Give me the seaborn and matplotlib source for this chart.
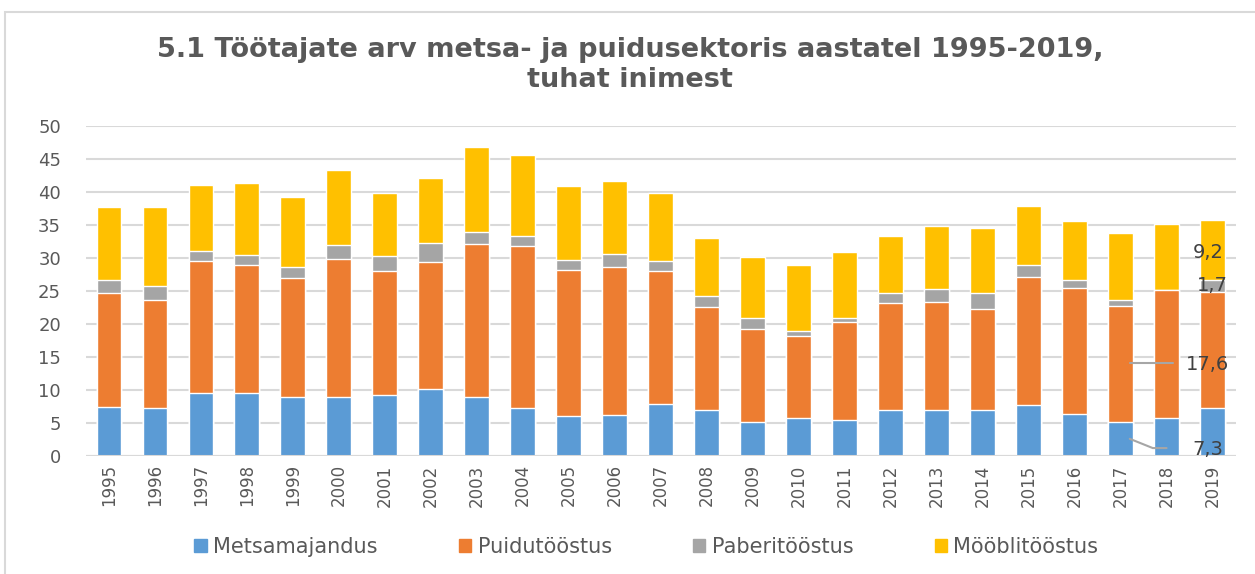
import numpy as np
import pandas as pd
import matplotlib
matplotlib.use('Agg')
import matplotlib.pyplot as plt
from matplotlib.patches import Rectangle, Patch
import seaborn as sns

# Andmed (tuhat inimest), loetud jooniselt
years = [str(y) for y in range(1995, 2020)]
metsamajandus = [7.4, 7.3, 9.5, 9.5, 8.9, 9.0, 9.3, 10.1, 8.9, 7.3, 6.1, 6.2, 7.9,
                 7.0, 5.2, 5.7, 5.5, 7.0, 7.0, 6.9, 7.7, 6.4, 5.2, 5.8, 7.3]
puidutoostus = [17.3, 16.4, 20.1, 19.4, 18.0, 20.8, 18.7, 19.3, 23.2, 24.5, 22.1, 22.4, 20.1,
                15.5, 14.0, 12.5, 14.8, 16.2, 16.3, 15.4, 19.4, 19.1, 17.6, 19.4, 17.6]
paberitoostus = [2.0, 2.0, 1.4, 1.5, 1.7, 2.2, 2.3, 2.9, 1.8, 1.5, 1.5, 2.0, 1.5,
                 1.7, 1.7, 0.8, 0.6, 1.5, 2.0, 2.4, 1.8, 1.2, 0.9, 0.0, 1.7]
mooblitoostus = [11.1, 12.0, 10.1, 11.0, 10.6, 11.3, 9.5, 9.8, 12.9, 12.3, 11.2, 11.1, 10.3,
                 8.9, 9.3, 9.9, 10.0, 8.6, 9.5, 9.9, 9.0, 8.9, 10.1, 9.9, 9.2]
series_names = ['Metsamajandus', 'Puidutööstus', 'Paberitööstus', 'Mööblitööstus']
colors = ['#5B9BD5', '#ED7D31', '#A5A5A5', '#FFC000']

df = pd.DataFrame({'aasta': years,
                   series_names[0]: metsamajandus,
                   series_names[1]: puidutoostus,
                   series_names[2]: paberitoostus,
                   series_names[3]: mooblitoostus})
cum = df[series_names].cumsum(axis=1)

sns.set_style('white')
plt.rcParams['font.family'] = ['DejaVu Sans']
txt = '#595959'

fig = plt.figure(figsize=(12.55, 5.74), dpi=100)
ax = fig.add_axes([0.0685, 0.2056, 0.916, 0.5749])

# virnastatud tulbad: kõrgeim kiht enne, madalamad peale
for name, col in reversed(list(zip(series_names, colors))):
    sns.barplot(x=df['aasta'], y=cum[name], color=col, width=0.54,
                saturation=1, ax=ax, zorder=3)

ax.set_ylim(0, 50)
ax.set_xlim(-0.5, len(years) - 0.5)
ax.set_yticks(range(0, 51, 5))
ax.yaxis.grid(True, color='#d9d9d9', linewidth=1.5, zorder=0)
ax.set_axisbelow(True)
for s in ax.spines.values():
    s.set_visible(False)
ax.axhline(0, color='#d9d9d9', linewidth=1.5, zorder=4)
ax.set_xlabel('')
ax.set_ylabel('')
ax.tick_params(axis='y', length=0, pad=18, labelsize=13, labelcolor=txt)
ax.tick_params(axis='x', length=0, pad=6, labelsize=12, labelcolor=txt, rotation=90)

# andmesildid viimasele aastale
last = len(years) - 1
lab = dict(fontsize=14, color='#404040', ha='center', va='center', zorder=6)
ax.text(last - 0.1, cum[series_names[3]].iloc[-1] - 4.9, '9,2', **lab)
ax.text(last, cum[series_names[2]].iloc[-1] - 0.8, '1,7', **lab)
ax.text(last - 0.1, 13.8, '17,6', **lab)
ax.text(last - 0.1, 1.0, '7,3', **lab)
ax.plot([last - 1.8, last - 0.87], [14.1, 14.1], color='#a6a6a6', lw=1.5, zorder=5)
ax.plot([last - 1.8, last - 1.3, last - 1.0], [2.6, 1.2, 1.2], color='#a6a6a6', lw=1.5, zorder=5)

fig.text(0.502, 0.887, '5.1 Töötajate arv metsa- ja puidusektoris aastatel 1995-2019,\ntuhat inimest',
         ha='center', va='center', fontsize=19.5, fontweight='bold', color=txt, linespacing=1.2)

handles = [Patch(facecolor=c, edgecolor=c) for c in colors]
fig.legend(handles, series_names, loc='center', bbox_to_anchor=(0.515, 0.047), ncol=4,
           frameon=False, fontsize=15, handlelength=0.6, handleheight=0.6,
           handletextpad=0.3, columnspacing=3.9, labelcolor=txt)

fig.patches.append(Rectangle((5 / 1255, -0.1), 1.2, 1 - 12 / 574 + 0.1, transform=fig.transFigure,
                             fill=False, edgecolor='#d9d9d9', linewidth=1.5))

fig.savefig('out.png', dpi=100)
